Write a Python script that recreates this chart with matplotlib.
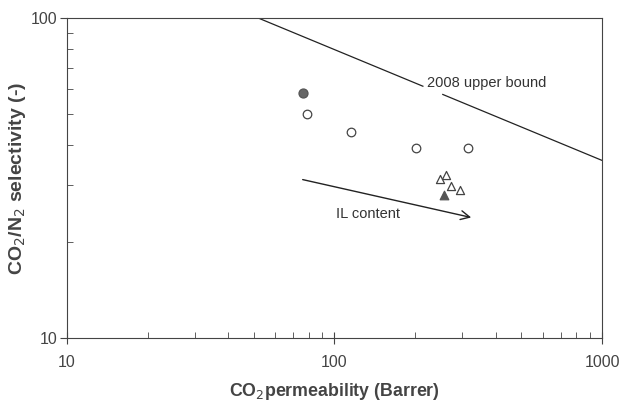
import numpy as np
import matplotlib.pyplot as plt
from matplotlib.ticker import LogLocator, NullFormatter, FixedFormatter, FixedLocator

plt.rcParams['font.family'] = ['Liberation Sans', 'DejaVu Sans']

# data
circ_open_x = [79.1, 115.6, 201.9, 314.8]
circ_open_y = [50.1, 43.9, 39.2, 39.2]
circ_fill_x = [76.2]
circ_fill_y = [58.3]
tri_open_x = [247.6, 261.0, 272.6, 293.6]
tri_open_y = [31.5, 32.2, 29.9, 29.1]
tri_fill_x = [257.4]
tri_fill_y = [27.9]

# Robeson 2008 upper bound: P = k * alpha^n
bound_k = 30967000
bound_n = -2.888
bound_gap = [214, 254]   # permeability range hidden behind the label

arrow_start = (74.3, 31.4)
arrow_end = (332, 23.7)

fig = plt.figure(figsize=(6.23, 4.03), dpi=100)
ax = fig.add_axes([0.1075, 0.1613, 0.8588, 0.794])
ax.set_xscale('log')
ax.set_yscale('log')
ax.set_xlim(10, 1000)
ax.set_ylim(10, 100)

# upper bound line, broken where the label sits
p_start = bound_k * 100 ** bound_n
for p0, p1 in [(p_start, bound_gap[0]), (bound_gap[1], 1000)]:
    p = np.geomspace(p0, p1, 50)
    a = (p / bound_k) ** (1 / bound_n)
    ax.plot(p, a, color='#222222', lw=0.9)
ax.text(221.8, 62.6, '2008 upper bound', fontsize=10.5, color='#333333',
        va='center', ha='left')

ax.scatter(circ_open_x, circ_open_y, s=38, marker='o', facecolors='white',
           edgecolors='#444444', linewidths=0.9, zorder=3)
ax.scatter(circ_fill_x, circ_fill_y, s=42, marker='o', facecolors='#666666',
           edgecolors='#555555', linewidths=0.9, zorder=3)
ax.scatter(tri_open_x, tri_open_y, s=34, marker='^', facecolors='white',
           edgecolors='#444444', linewidths=0.9, zorder=3)
ax.scatter(tri_fill_x, tri_fill_y, s=38, marker='^', facecolors='#555555',
           edgecolors='#555555', linewidths=0.9, zorder=3)

ax.annotate('', xy=arrow_end, xytext=arrow_start,
            arrowprops=dict(arrowstyle='->', color='#222222', lw=1.0,
                            mutation_scale=16))
ax.text(133, 24.4, 'IL content', fontsize=10.5, color='#333333',
        va='center', ha='center')

for s in ax.spines.values():
    s.set_color('#444444')
    s.set_linewidth(0.8)

ax.xaxis.set_major_locator(FixedLocator([10, 100, 1000]))
ax.xaxis.set_major_formatter(FixedFormatter(['10', '100', '1000']))
ax.xaxis.set_minor_locator(LogLocator(base=10, subs=np.arange(2, 10)))
ax.xaxis.set_minor_formatter(NullFormatter())
ax.yaxis.set_major_locator(FixedLocator([10, 100]))
ax.yaxis.set_major_formatter(FixedFormatter(['10', '100']))
ax.yaxis.set_minor_locator(LogLocator(base=10, subs=np.arange(2, 10)))
ax.yaxis.set_minor_formatter(NullFormatter())

ax.tick_params(axis='x', which='major', direction='inout', length=8, width=0.8,
               colors='#444444', labelsize=11.5, pad=8, labelcolor='#444444')
ax.tick_params(axis='x', which='minor', direction='in', length=4, width=0.6,
               colors='#444444')
ax.tick_params(axis='y', which='major', direction='out', length=5, width=0.8,
               colors='#444444', labelsize=11.5, pad=2, labelcolor='#444444')
ax.tick_params(axis='y', which='minor', direction='in', length=4, width=0.6,
               colors='#444444')

ax.set_xlabel('CO$_2$permeability (Barrer)', fontsize=12.8, fontweight='bold',
              color='#444444', labelpad=8)
ax.set_ylabel('CO$_2$/N$_2$ selectivity (-)', fontsize=14, fontweight='bold',
              color='#444444', labelpad=2)

fig.savefig('out.png', dpi=100)
